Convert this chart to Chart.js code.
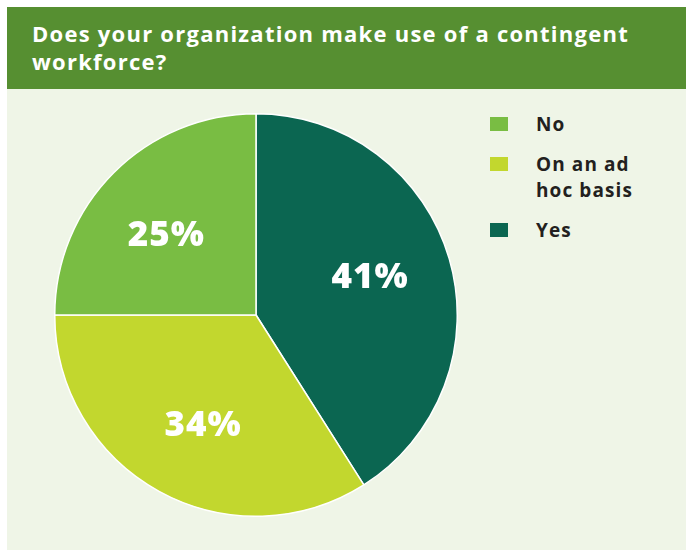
<!DOCTYPE html>
<html>
<head>
<meta charset="utf-8">
<script src="https://cdn.jsdelivr.net/npm/chart.js@4/dist/chart.umd.min.js"></script>
<style>
  html, body { margin: 0; padding: 0; background: #ffffff; }
  body { width: 686px; height: 551px; position: relative; overflow: hidden; font-family: "Open Sans", "DejaVu Sans", sans-serif; }
  #panel { position: absolute; left: 7px; top: 7px; width: 679px; height: 543px; background: #eff5e7; }
  #header { position: absolute; left: 0; top: 0; width: 100%; height: 82px; background: #568f31; }
  #title { position: absolute; left: 25px; top: 12px; margin: 0; color: #ffffff; font-weight: 700; font-size: 22px; line-height: 28px; letter-spacing: 1.25px; width: 640px; }
  #pieBox { position: absolute; left: 47px; top: 106px; width: 404px; height: 404px; }
  #legend { position: absolute; left: 483px; top: 104px; list-style: none; margin: 0; padding: 0; }
  #legend li { position: relative; padding-left: 46px; margin-bottom: 14px; color: #231f20; font-weight: 700; font-size: 19px; line-height: 26px; letter-spacing: 1.1px; width: 112px; }
  #legend li span { position: absolute; left: 0; top: 6px; width: 18px; height: 14px; }
</style>
</head>
<body>
<div id="panel">
  <div id="header"><h1 id="title"></h1></div>
  <div id="pieBox"><canvas id="pie"></canvas></div>
  <ul id="legend"></ul>
</div>
<script>
// Survey question and answer shares (percent of respondents)
const chartTitle = "Does your organization make use of a contingent workforce?";
const categories = ["Yes", "On an ad hoc basis", "No"];
const shares = [41, 34, 25];
const sliceColors = ["#0b6651", "#c2d72e", "#79bd43"];
// Legend lists the answers in the reverse of the drawing order
const legendOrder = ["No", "On an ad hoc basis", "Yes"];

document.getElementById("title").textContent = chartTitle;

const legendEl = document.getElementById("legend");
legendOrder.forEach(name => {
  const i = categories.indexOf(name);
  const li = document.createElement("li");
  const sw = document.createElement("span");
  sw.style.background = sliceColors[i];
  li.appendChild(sw);
  li.appendChild(document.createTextNode(name));
  legendEl.appendChild(li);
});

// Writes the percentage inside each slice
const sliceLabels = {
  id: "sliceLabels",
  afterDatasetsDraw(chart) {
    const ctx = chart.ctx;
    const meta = chart.getDatasetMeta(0);
    ctx.save();
    ctx.fillStyle = "#ffffff";
    ctx.font = "800 35px 'Open Sans', sans-serif";
    if ("letterSpacing" in ctx) ctx.letterSpacing = "1px";
    ctx.textAlign = "center";
    ctx.textBaseline = "alphabetic";
    meta.data.forEach((arc, i) => {
      const p = arc.getProps(["x", "y", "startAngle", "endAngle", "outerRadius"], true);
      const mid = (p.startAngle + p.endAngle) / 2 - 0.05;
      const r = p.outerRadius * 0.6;
      ctx.fillText(shares[i] + "%", p.x + Math.cos(mid) * r, p.y + Math.sin(mid) * r + 12.5);
    });
    ctx.restore();
  }
};

new Chart(document.getElementById("pie"), {
  type: "pie",
  data: {
    labels: categories,
    datasets: [{
      data: shares,
      backgroundColor: sliceColors,
      borderColor: "#ffffff",
      borderWidth: 1.5
    }]
  },
  options: {
    responsive: true,
    maintainAspectRatio: false,
    animation: false,
    layout: { padding: 0 },
    plugins: {
      legend: { display: false },
      tooltip: { enabled: false },
      title: { display: false }
    }
  },
  plugins: [sliceLabels]
});
</script>
</body>
</html>
